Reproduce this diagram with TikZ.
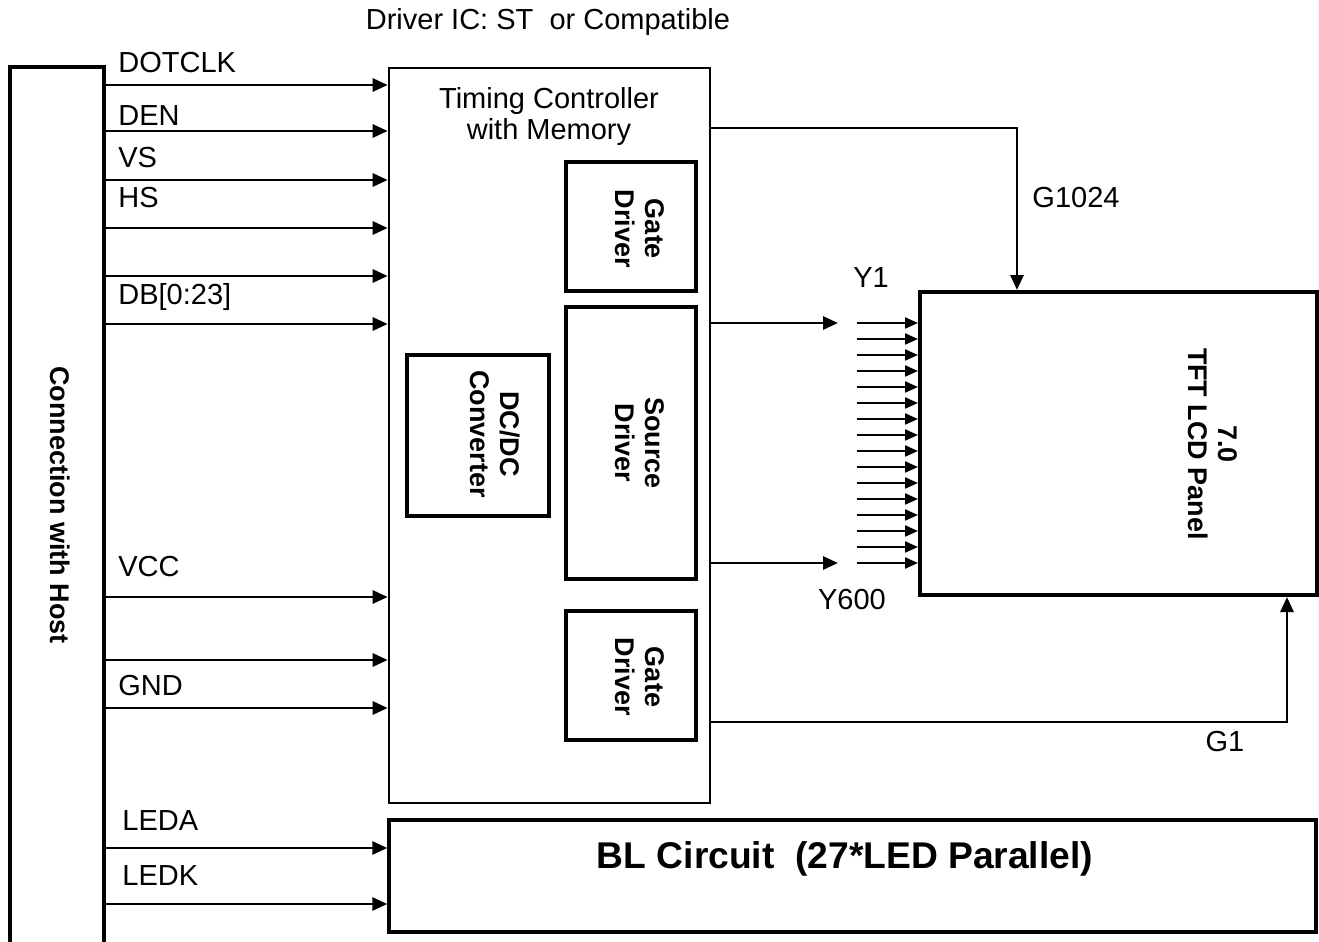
\documentclass[tikz,border=0pt]{standalone}
\usepackage{fontspec}
\setmainfont{Liberation Sans}
\usetikzlibrary{arrows.meta,positioning,fit}
\tikzset{
  blk/.style  = {draw, line width=1.7pt, inner sep=0pt},
  sig/.style  = {-{Triangle[length=7.5pt,width=6.5pt]}, line width=1.4pt},
  fan/.style  = {-{Triangle[length=6.5pt,width=5.5pt]}, line width=1.1pt},
  lbl/.style  = {font=\fontsize{14.5}{15.5}\selectfont, inner sep=0pt},
  vtxt/.style = {rotate=-90, align=center, inner sep=0pt,
                 font=\fontsize{13.5}{15}\selectfont\bfseries},
}

\begin{document}
\begin{tikzpicture}[x=0.5pt, y=-0.5pt]
\useasboundingbox (0,0) rectangle (1319,942);
% host side
\draw[line width=1.8pt] (10,942) -- (10,67) -- (104,67) -- (104,942);
\node[vtxt] (host) at (60,505) {Connection with Host};
\node[lbl] (title) at (548,22) {Driver IC: ST\ \ or Compatible};

% blocks
\node[blk, line width=1.3pt, fit={(389,68) (710,803)}] (tcon) {};
\node[lbl, align=center] (tconname) at (549,117) {Timing Controller\\with Memory};
\node[blk, fit={(566,162) (696,291)}] (gateup) {};
\node[blk, fit={(566,307) (696,579)}] (src) {};
\node[blk, fit={(566,611) (696,740)}] (gatedn) {};
\node[blk, fit={(407,355) (549,516)}] (dcdc) {};
\node[blk, line width=2pt, fit={(920,292) (1317,595)}] (tft) {};
\node[blk, fit={(389,820) (1316,932)}] (bl) {};
\node[vtxt] at (640,229) {Gate\\Driver};
\node[vtxt] at (640,443) {Source\\Driver};
\node[vtxt] at (640,677) {Gate\\Driver};
\node[vtxt] at (495,434) {DC/DC\\Converter};
\node[vtxt] at (1213,444) {7.0\\TFT LCD Panel};
\node[font=\fontsize{18.6}{21}\selectfont\bfseries, inner sep=0pt] (blname)
  at (845,859) {BL Circuit\ \ (27*LED Parallel)};

% host signals
\foreach \y [count=\i] in {85,131,180,228,276,324,597,660,708}
  {\coordinate (h\i) at (104,\y);
   \draw[sig] (h\i) -- (h\i -| tcon.west);}
\foreach \y [count=\i] in {848,904}
  {\coordinate (l\i) at (104,\y);
   \draw[sig] (l\i) -- (l\i -| bl.west);}
\node[lbl, anchor=base west] at (118,72) {DOTCLK};
\node[lbl, anchor=base west] at (118,126) {DEN};
\node[lbl, anchor=base west] at (118,167) {VS};
\node[lbl, anchor=base west] at (118,207) {HS};
\node[lbl, anchor=base west] at (118,304) {DB[0:23]};
\node[lbl, anchor=base west] at (118,576) {VCC};
\node[lbl, anchor=base west] at (118,695) {GND};
\node[lbl, anchor=base west] at (122,830) {LEDA};
\node[lbl, anchor=base west] at (122,885) {LEDK};

% panel side
\draw[sig] (tcon.east |- 0,128) -| (1017,0 |- tft.north);
\draw[sig] (tcon.east |- 0,722) -| (1287,0 |- tft.south);
\coordinate (ytop) at (838,323);
\coordinate (ybot) at (838,563);
\draw[sig] (tcon.east |- ytop) -- (ytop);
\draw[sig] (tcon.east |- ybot) -- (ybot);
\foreach \k [evaluate=\k as \yy using 323+16*\k] in {0,...,15}
  \draw[fan] (857,\yy) -- (tft.west |- 0,\yy);
\node[lbl] at (1076,198) {G1024};
\node[lbl] at (871,278) {Y1};
\node[lbl] at (852,600) {Y600};
\node[lbl] at (1225,742) {G1};
\end{tikzpicture}
\end{document}
